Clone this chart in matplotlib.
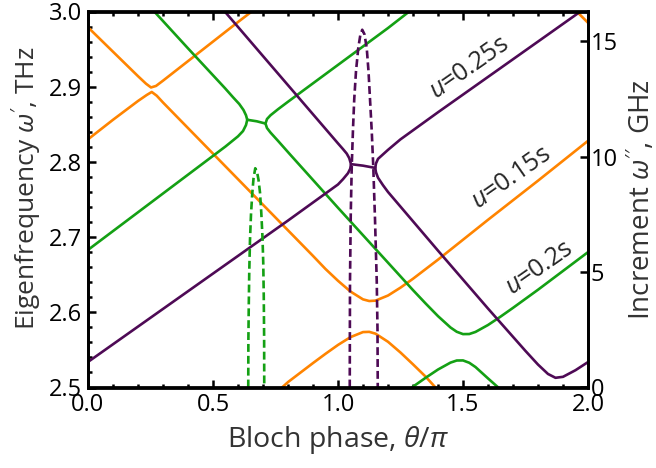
import matplotlib
matplotlib.use("Agg")

import numpy as np
import matplotlib.pyplot as plt
from matplotlib.ticker import MultipleLocator, FormatStrFormatter

plt.rcParams['font.family'] = ['Open Sans', 'DejaVu Sans']
plt.rcParams['mathtext.fontset'] = 'custom'
plt.rcParams['mathtext.rm'] = 'Open Sans'
plt.rcParams['mathtext.it'] = 'Open Sans:italic'

# --- colours ---
c_or = "#ff8400"
c_gr = "#14a014"
c_pu = "#4e0a55"

# --- eigenfrequency (THz), x = theta/pi ---
# u = 0.15s (orange)
or_a_x = [0.0, 0.1, 0.2, 0.232, 0.252, 0.272, 0.3, 0.4, 0.5, 0.6, 0.655]
or_a_y = [2.979, 2.9465, 2.914, 2.904, 2.899, 2.901, 2.908, 2.934, 2.960, 2.986, 3.0]

or_b_x = [0.0, 0.1, 0.2, 0.235, 0.255, 0.275, 0.3, 0.5, 0.7, 0.9, 0.95, 1.0, 1.05,
          1.1, 1.125, 1.15, 1.2, 1.25, 1.3, 1.4, 1.6, 1.8, 2.0]
or_b_y = [2.830, 2.856, 2.881, 2.889, 2.893, 2.888, 2.879, 2.811, 2.743, 2.675, 2.6576,
          2.6419, 2.6276, 2.6172, 2.615, 2.6155, 2.6223, 2.6328, 2.6446, 2.670, 2.723,
          2.775, 2.828]

or_c_x = [0.776, 0.8, 0.9, 0.95, 1.0, 1.05, 1.1, 1.125, 1.15, 1.2, 1.25, 1.3, 1.35, 1.39]
or_c_y = [2.5, 2.5072, 2.5325, 2.5448, 2.5566, 2.567, 2.5737, 2.574, 2.5716, 2.5608,
          2.5465, 2.5308, 2.5146, 2.5]

or_d_x = [1.955, 2.0]
or_d_y = [3.0, 2.985]

# u = 0.2s (green)
gr_a_x = [0.265, 0.4, 0.548, 0.58, 0.605, 0.622, 0.632, 0.637, 0.675, 0.71, 0.716, 0.73,
          0.76, 0.8, 1.0, 1.2, 1.285]
gr_a_y = [3.0, 2.951, 2.898, 2.886, 2.877, 2.869, 2.862, 2.856, 2.854, 2.851, 2.857,
          2.862, 2.870, 2.880, 2.929, 2.978, 3.0]

gr_b_x = [0.0, 0.2, 0.4, 0.55, 0.6, 0.62, 0.632, 0.637]
gr_b_y = [2.683, 2.733, 2.783, 2.8205, 2.834, 2.841, 2.849, 2.856]

gr_c_x = [0.71, 0.716, 0.73, 0.76, 0.808, 1.0, 1.2, 1.3, 1.35, 1.4, 1.45, 1.475, 1.5,
          1.525, 1.55, 1.6, 1.65, 1.7, 1.8, 1.9, 2.0]
gr_c_y = [2.851, 2.845, 2.839, 2.828, 2.81, 2.739, 2.666, 2.6295, 2.6119, 2.5949, 2.5798,
          2.5741, 2.571, 2.5711, 2.5739, 2.5831, 2.5942, 2.6059, 2.63, 2.655, 2.68]

gr_d_x = [1.3, 1.35, 1.4, 1.45, 1.475, 1.5, 1.525, 1.55, 1.6, 1.641]
gr_d_y = [2.5011, 2.5128, 2.5239, 2.5331, 2.5359, 2.536, 2.5329, 2.5272, 2.5121, 2.5]

# u = 0.25s (purple)
pu_a_x = [0.0, 0.2, 0.4, 0.6, 0.8, 1.0, 1.02, 1.04, 1.049, 1.052, 1.1, 1.149, 1.152,
          1.16, 1.18, 1.2, 1.25, 1.4, 1.6, 1.8, 1.97]
pu_a_y = [2.534, 2.581, 2.628, 2.675, 2.722, 2.770, 2.777, 2.785, 2.791, 2.797, 2.795,
          2.792, 2.798, 2.804, 2.810, 2.816, 2.830, 2.866, 2.913, 2.960, 3.0]

pu_b_x = [0.547, 0.7, 0.9, 1.0, 1.02, 1.035, 1.045, 1.052]
pu_b_y = [3.0, 2.9407, 2.8633, 2.8246, 2.817, 2.811, 2.805, 2.797]

pu_c_x = [1.149, 1.152, 1.16, 1.18, 1.2, 1.4, 1.6, 1.75, 1.8, 1.84, 1.87, 1.9, 1.95, 2.0]
pu_c_y = [2.792, 2.786, 2.779, 2.769, 2.760, 2.682, 2.605, 2.5486, 2.5305, 2.518,
          2.5129, 2.5142, 2.523, 2.5338]

# --- increment (GHz) ---
gr_inc_x = [0.641, 0.6415, 0.643, 0.645, 0.648, 0.652, 0.657, 0.662, 0.669, 0.676,
            0.682, 0.688, 0.693, 0.698, 0.701, 0.703, 0.7045, 0.705]
gr_inc_y = [0.0, 2.0, 3.5, 5.0, 6.4, 7.5, 8.4, 9.05, 9.5, 9.35, 9.0, 8.45, 7.6, 6.5,
            5.4, 4.0, 2.2, 0.0]

pu_inc_x = [1.047, 1.0475, 1.048, 1.051, 1.055, 1.060, 1.065, 1.072, 1.081, 1.089,
            1.097, 1.106, 1.115, 1.122, 1.128, 1.135, 1.141, 1.148, 1.155, 1.158, 1.159]
pu_inc_y = [0.0, 2.5, 4.6, 7.5, 9.6, 11.2, 12.5, 13.7, 14.7, 15.25, 15.5, 15.3, 14.7,
            13.7, 12.5, 11.1, 9.6, 7.3, 4.6, 2.5, 0.0]

# --- labels ---
labels = ["$u$=0.25s", "$u$=0.15s", "$u$=0.2s"]
label_x = [1.525, 1.694, 1.806]
label_y = [2.925, 2.778, 2.659]

# --- figure ---
fig = plt.figure(figsize=(6.56, 4.68), dpi=100)
ax = fig.add_axes([88/656, 1 - 387.5/468, 500/656, 376/468])
ax2 = ax.twinx()

lw = 1.9
for xs, ys in [(or_a_x, or_a_y), (or_b_x, or_b_y), (or_c_x, or_c_y), (or_d_x, or_d_y)]:
    ax.plot(xs, ys, color=c_or, lw=lw)
for xs, ys in [(gr_a_x, gr_a_y), (gr_b_x, gr_b_y), (gr_c_x, gr_c_y), (gr_d_x, gr_d_y)]:
    ax.plot(xs, ys, color=c_gr, lw=lw)
for xs, ys in [(pu_a_x, pu_a_y), (pu_b_x, pu_b_y), (pu_c_x, pu_c_y)]:
    ax.plot(xs, ys, color=c_pu, lw=lw)

ax2.plot(gr_inc_x, gr_inc_y, color=c_gr, lw=lw, ls=(0, (3, 1.5)))
ax2.plot(pu_inc_x, pu_inc_y, color=c_pu, lw=lw, ls=(0, (3, 1.5)))

for t, x, y in zip(labels, label_x, label_y):
    ax.text(x, y, t, rotation=35, ha='center', va='center', fontsize=18,
            color="#262626", rotation_mode='anchor')

# --- axes ---
ax.set_xlim(0, 2.0)
ax.set_ylim(2.5, 3.0)
ax2.set_ylim(0, 16.29)

ax.xaxis.set_major_locator(MultipleLocator(0.5))
ax.xaxis.set_minor_locator(MultipleLocator(0.1))
ax.yaxis.set_major_locator(MultipleLocator(0.1))
ax.yaxis.set_minor_locator(MultipleLocator(0.02))
ax2.yaxis.set_major_locator(MultipleLocator(5))

ax.xaxis.set_major_formatter(FormatStrFormatter('%.1f'))
ax.yaxis.set_major_formatter(FormatStrFormatter('%.1f'))

ax.tick_params(which='both', direction='in', top=True, right=False, width=1.8,
               labelsize=17, colors='black')
ax.tick_params(which='major', length=5.5, pad=4)
ax.tick_params(which='minor', length=3.2)
ax2.tick_params(which='both', direction='in', width=1.8, length=5.5, labelsize=17, pad=2)

for a in (ax, ax2):
    for s in a.spines.values():
        s.set_linewidth(2.0)

ax.set_xlabel(r"Bloch phase, $\theta/\pi$", fontsize=20.5, color="#333333", labelpad=5)
ax.set_ylabel(r"Eigenfrequency $\omega'$, THz", fontsize=19, color="#333333")
ax2.set_ylabel(r"Increment $\omega''$, GHz", fontsize=20, color="#333333", labelpad=5)
ax.yaxis.set_label_coords(-0.088, 0.53)

fig.savefig("out.png", dpi=100)
